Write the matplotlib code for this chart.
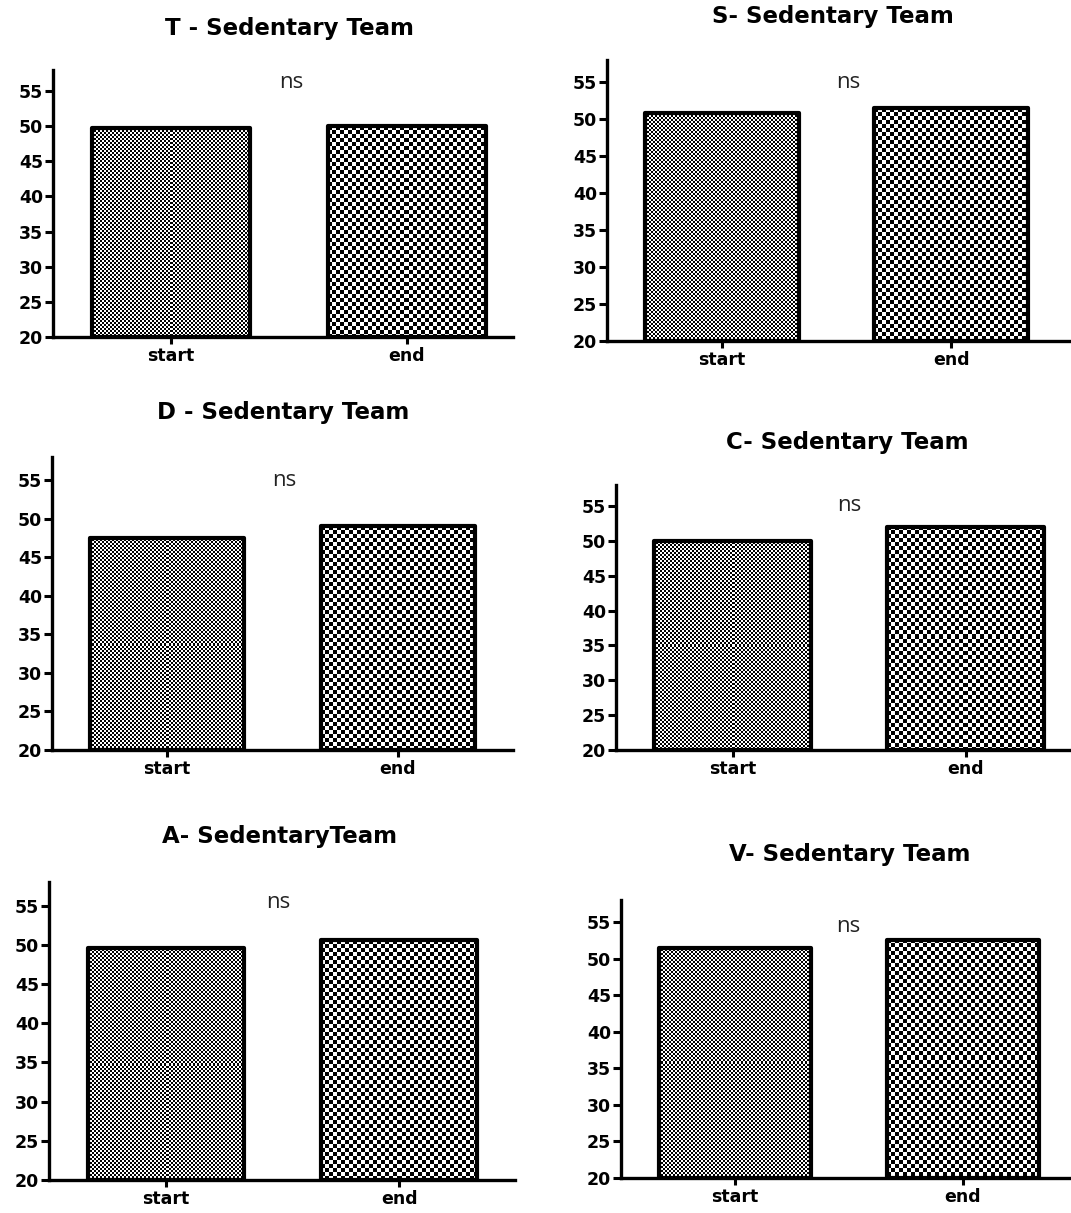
import numpy as np
import matplotlib
matplotlib.use("Agg")
import matplotlib.pyplot as plt

# data
titles = ["T - Sedentary Team", "S- Sedentary Team", "D - Sedentary Team",
          "C- Sedentary Team", "A- SedentaryTeam", "V- Sedentary Team"]
categories = ["start", "end"]
start_vals = [49.7, 50.8, 47.5, 50.0, 49.6, 51.5]
end_vals = [50.0, 51.5, 49.0, 52.0, 50.6, 52.6]
yticks = [20, 25, 30, 35, 40, 45, 50, 55]
sig_label = "ns"

# layout in pixels: (left, top, right, bottom) of each axes, bar spacing
W, H = 1071, 1213
boxes = [(53, 70, 513, 337), (607, 60, 1071, 341), (52, 457, 513, 750),
         (616, 485, 1071, 750), (49, 882, 515, 1180), (621, 900, 1071, 1178)]
spacing = [236, 229.5, 230.5, 233, 233.5, 228]
title_pos = [(289, 28), (833, 17), (283, 412), (847, 443), (279, 837), (850, 855)]
ns_pos = [(291, 82), (848, 83), (284, 481), (849, 505), (278, 902), (848, 927)]
cells = [2, 4]  # checker cell size in px for start / end


def checker_fill(ax, bar, cell):
    # pixel-sized checkerboard texture, clipped to the bar
    x0, y0 = bar.get_x(), bar.get_y()
    x1, y1 = x0 + bar.get_width(), y0 + bar.get_height()
    (px0, py0), (px1, py1) = ax.transData.transform([(x0, y0), (x1, y1)])
    nx = max(int(round(abs(px1 - px0))), 1)
    ny = max(int(round(abs(py1 - py0))), 1)
    ii, jj = np.indices((ny, nx))
    board = ((ii // cell) + (jj // cell)) % 2
    im = ax.imshow(board, extent=(x0, x1, y0, y1), cmap="gray",
                   interpolation="none", aspect="auto", zorder=2,
                   vmin=0, vmax=1)
    im.set_clip_path(bar)


fig = plt.figure(figsize=(W / 100, H / 100), dpi=100)

for k in range(6):
    left, top, right, bottom = boxes[k]
    ax = fig.add_axes([left / W, 1 - bottom / H, (right - left) / W, (bottom - top) / H])
    xr = (right - left) / spacing[k] - 0.5
    ax.set_xlim(-0.5, xr)
    ax.set_ylim(20, 58)
    x = np.arange(len(categories))
    vals = [start_vals[k], end_vals[k]]
    bars = ax.bar(x, [v - 20 for v in vals], bottom=20, width=0.67,
                  facecolor="none", edgecolor="black", linewidth=3, zorder=3)
    for b, c in zip(bars, cells):
        b.set_joinstyle("round")
        checker_fill(ax, b, c)
    ax.set_xlim(-0.5, xr)
    ax.set_ylim(20, 58)

    for s in ["top", "right"]:
        ax.spines[s].set_visible(False)
    for s in ["left", "bottom"]:
        ax.spines[s].set_linewidth(2.4)
    ax.set_yticks(yticks)
    ax.set_yticklabels([str(t) for t in yticks], fontsize=12.5, fontweight="bold",
                       family="DejaVu Sans")
    ax.set_xticks(x)
    ax.set_xticklabels(categories, fontsize=12.5, fontweight="bold",
                       family="DejaVu Sans")
    ax.tick_params(axis="y", length=6, width=2.2, pad=1)
    ax.tick_params(axis="x", length=5, width=2.2, pad=2)

    fig.text(title_pos[k][0] / W, 1 - title_pos[k][1] / H, titles[k],
             ha="center", va="center", fontsize=16.5, fontweight="bold",
             family="DejaVu Sans")
    fig.text(ns_pos[k][0] / W, 1 - ns_pos[k][1] / H, sig_label,
             ha="center", va="center", fontsize=16, family="Open Sans",
             color="#222222")

fig.savefig("out.png", dpi=100)
